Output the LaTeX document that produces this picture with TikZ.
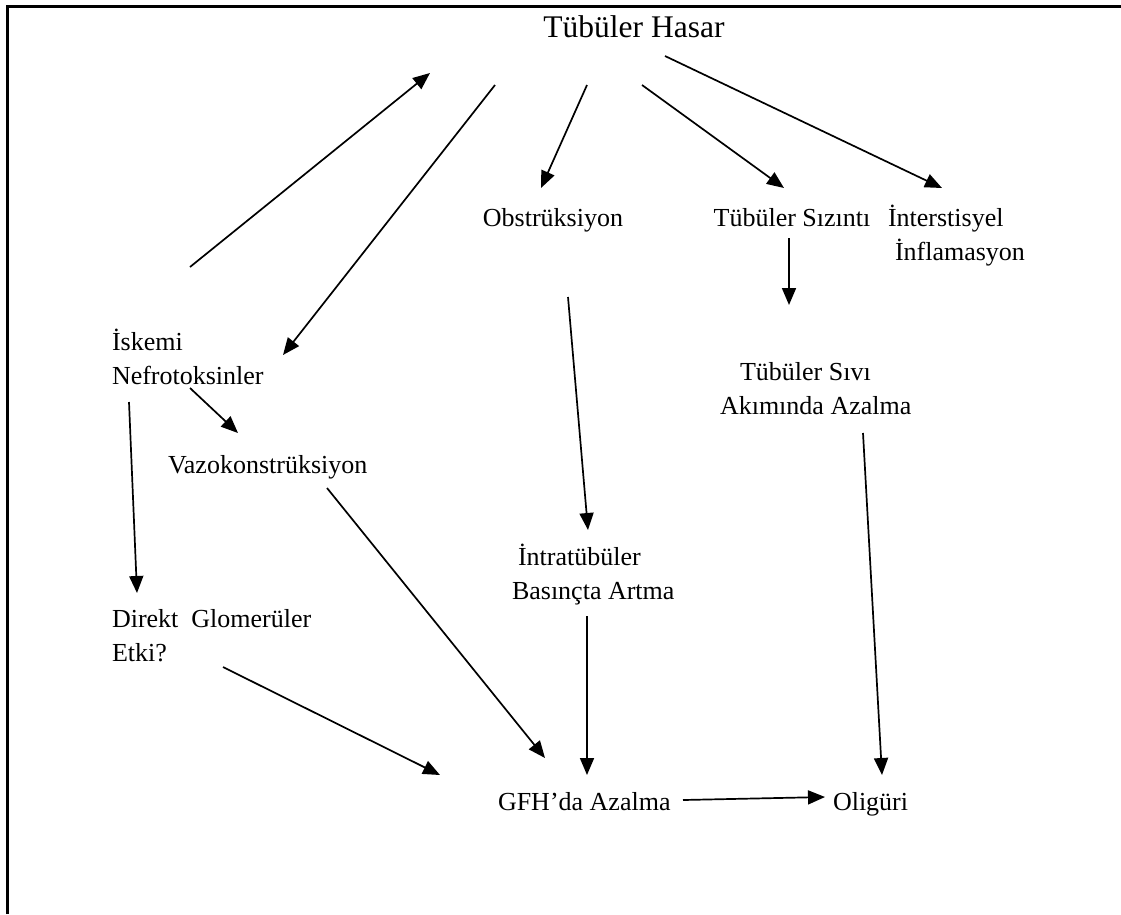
\documentclass[tikz,border=0pt]{standalone}
\usepackage{fontspec}
\setmainfont{Liberation Serif}
\usetikzlibrary{arrows.meta}
\newcommand{\firststrut}{\rule{0pt}{24pt}}
\tikzset{
  txt/.style={inner sep=0pt, outer sep=0pt, font=\fontsize{26}{34}\selectfont},
  ttl/.style={inner sep=0pt, outer sep=0pt, font=\fontsize{31.5}{36}\selectfont},
  arr/.style={line width=1.7pt, -{Triangle[length=17pt,width=14pt]}},
  frame/.style={line width=3pt}
}
\begin{document}
\begin{tikzpicture}[x=1pt,y=-1pt]
\useasboundingbox (0,0) rectangle (1121,914);
\draw[frame] (7,914) -- (7,6) -- (1121,6);

\node[ttl, anchor=base] (th) at (634,37) {Tübüler Hasar};
\node[txt, anchor=base] (obs) at (553,226) {Obstrüksiyon};
\node[txt, anchor=base] (ts) at (792,226) {Tübüler Sızıntı};
\node[txt, anchor=north west, align=left] (int) at (888,202) {\firststrut İnterstisyel\\\hspace{7pt}İnflamasyon};
\node[txt, anchor=north west, align=left] (tsv) at (720,356) {\firststrut\hspace{20pt}Tübüler Sıvı\\Akımında Azalma};
\node[txt, anchor=north west, align=left] (isk) at (112,326) {\firststrut İskemi\\Nefrotoksinler};
\node[txt, anchor=base west] (vazo) at (168,473) {Vazokonstrüksiyon};
\node[txt, anchor=north west, align=left] (intra) at (512,541) {\firststrut\hspace{6pt}İntratübüler\\Basınçta Artma};
\node[txt, anchor=north west, align=left] (dir) at (112,603) {\firststrut Direkt\ \ Glomerüler\\Etki?};
\node[txt, anchor=base west] (gfh) at (498,810) {GFH’da Azalma};
\node[txt, anchor=base west] (olig) at (833,810) {Oligüri};

\draw[arr] ([shift={(78,-59)}]isk.north west) -- ([shift={(-204,36)}]th.base);
\draw[arr] ([shift={(-139,48)}]th.base) -- ([shift={(171,29)}]isk.north west);
\draw[arr] ([shift={(-47,48)}]th.base) -- ([shift={(-12,-38)}]obs.base);
\draw[arr] ([shift={(8,48)}]th.base) -- ([shift={(-8,-38)}]ts.base);
\draw[arr] ([shift={(31,19)}]th.base) -- ([shift={(54,-14)}]int.north west);
\draw[arr] ([shift={(-3,12)}]ts.base) -- ([shift={(69,-51)}]tsv.north west);
\draw[arr] ([shift={(15,71)}]obs.base) -- ([shift={(76,-11)}]intra.north west);
\draw[arr] ([shift={(78,62)}]isk.north west) -- ([shift={(70,-40)}]vazo.base west);
\draw[arr] ([shift={(17,76)}]isk.north west) -- ([shift={(25,-10)}]dir.north west);
\draw[arr] ([shift={(159,15)}]vazo.base west) -- ([shift={(47,-52)}]gfh.base west);
\draw[arr] ([shift={(75,75)}]intra.north west) -- ([shift={(89,-35)}]gfh.base west);
\draw[arr] ([shift={(111,64)}]dir.north west) -- ([shift={(-58,-35)}]gfh.base west);
\draw[arr] ([shift={(185,-10)}]gfh.base west) -- ([shift={(-8,-13)}]olig.base west);
\draw[arr] ([shift={(143,77)}]tsv.north west) -- ([shift={(49,-35)}]olig.base west);
\end{tikzpicture}
\end{document}
